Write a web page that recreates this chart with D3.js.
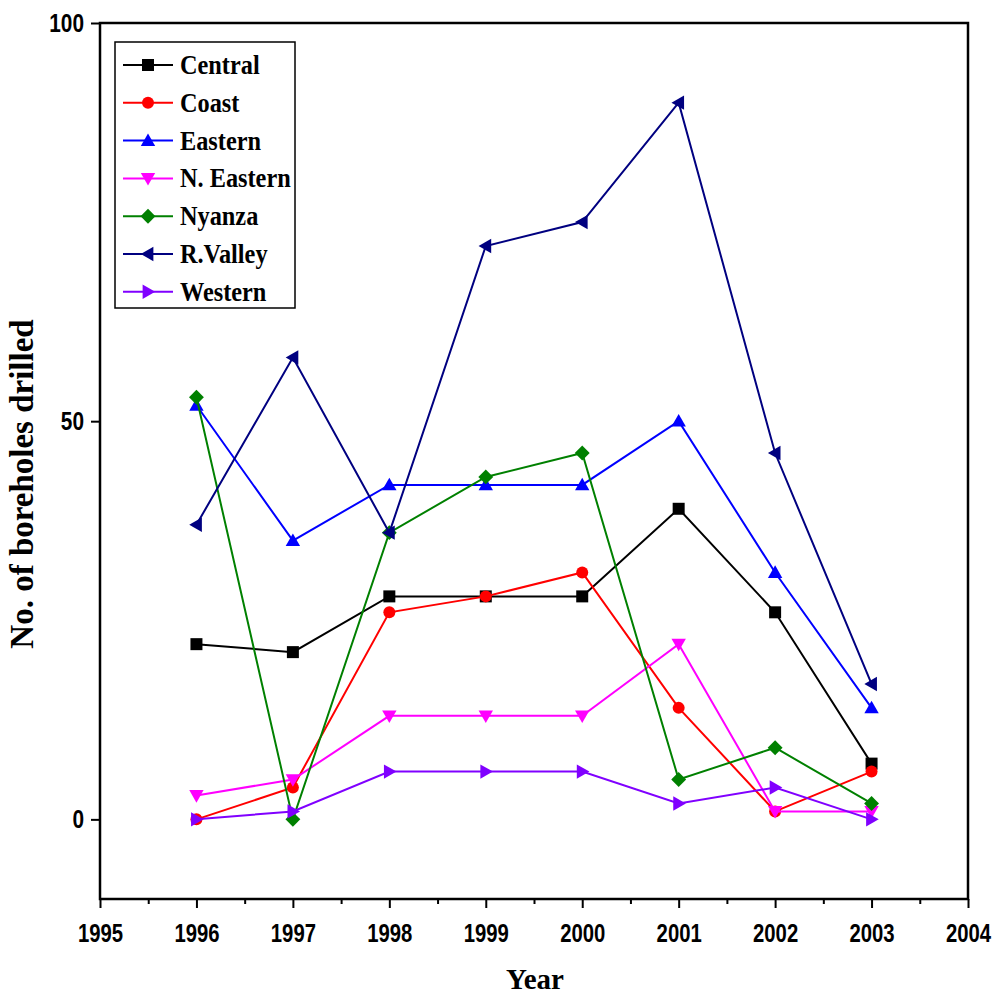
<!DOCTYPE html>
<html>
<head>
<meta charset="utf-8">
<script src="https://cdn.jsdelivr.net/npm/d3@7/dist/d3.min.js"></script>
<style>
  html, body { margin: 0; padding: 0; background: #fff; }
  svg { display: block; }
  .tick-label { font-family: 'Liberation Sans Narrow', 'Arial Narrow', 'Liberation Sans', Arial, sans-serif; font-weight: bold; font-size: 26px; }
  .serif { font-family: 'Liberation Serif', 'Times New Roman', serif; font-weight: bold; }
</style>
</head>
<body>
<script>
const years = [1996, 1997, 1998, 1999, 2000, 2001, 2002, 2003];
const xTickValues = [1995, 1996, 1997, 1998, 1999, 2000, 2001, 2002, 2003, 2004];
const yTickValues = [0, 50, 100];

const central   = [22, 21, 28, 28, 28, 39, 26, 7];
const coast     = [0, 4, 26, 28, 31, 14, 1, 6];
const eastern   = [52, 35, 42, 42, 42, 50, 31, 14];
const nEastern  = [3, 5, 13, 13, 13, 22, 1, 1];
const nyanza    = [53, 0, 36, 43, 46, 5, 9, 2];
const rValley   = [37, 58, 36, 72, 75, 90, 46, 17];
const western   = [0, 1, 6, 6, 6, 2, 4, 0];

const seriesNames = ["Central", "Coast", "Eastern", "N. Eastern", "Nyanza", "R.Valley", "Western"];
const seriesValues = [central, coast, eastern, nEastern, nyanza, rValley, western];
const seriesColors = ["#000000", "#ff0000", "#0000ff", "#ff00ff", "#008000", "#000080", "#8000ff"];
const seriesShapes = ["square", "circle", "triUp", "triDown", "diamond", "triLeft", "triRight"];

(function () {
const W = 995, H = 996;
const pL = 100, pR = 968, pT = 23, pB = 899;

const svg = d3.select("body").append("svg").attr("width", W).attr("height", H);

const x = d3.scaleLinear().domain([1995, 2004]).range([pL, pR]);
const y = d3.scaleLinear().domain([-10, 100]).range([pB, pT]);

function condense(sel, f) {
  sel.each(function () {
    const w = this.getComputedTextLength();
    d3.select(this).attr("textLength", w * f).attr("lengthAdjust", "spacingAndGlyphs");
  });
}

function markerPath(shape, s) {
  const p = d3.path();
  if (shape === "square") { p.rect(-s/2, -s/2, s, s); }
  else if (shape === "circle") { p.arc(0, 0, s/2, 0, 2*Math.PI); }
  else if (shape === "triUp") { p.moveTo(0, -s*0.6); p.lineTo(s*0.6, s*0.45); p.lineTo(-s*0.6, s*0.45); p.closePath(); }
  else if (shape === "triDown") { p.moveTo(0, s*0.6); p.lineTo(s*0.6, -s*0.45); p.lineTo(-s*0.6, -s*0.45); p.closePath(); }
  else if (shape === "diamond") { p.moveTo(0, -s*0.62); p.lineTo(s*0.62, 0); p.lineTo(0, s*0.62); p.lineTo(-s*0.62, 0); p.closePath(); }
  else if (shape === "triLeft") { p.moveTo(-s*0.6, 0); p.lineTo(s*0.45, -s*0.6); p.lineTo(s*0.45, s*0.6); p.closePath(); }
  else if (shape === "triRight") { p.moveTo(s*0.6, 0); p.lineTo(-s*0.45, -s*0.6); p.lineTo(-s*0.45, s*0.6); p.closePath(); }
  return p.toString();
}
const MS = 12;

const xAxis = d3.axisBottom(x).tickValues(xTickValues).tickFormat(d3.format("d")).tickSize(9).tickPadding(16);
const xg = svg.append("g").attr("transform", `translate(0,${pB})`).call(xAxis);
xg.select(".domain").remove();
xg.selectAll("line").attr("stroke", "#000").attr("stroke-width", 2);
xg.selectAll("text").attr("class", "tick-label").attr("fill", "#000");
condense(xg.selectAll("text"), 0.78);
const minorX = xTickValues.slice(0, -1).map(d => d + 0.5);
svg.append("g").attr("transform", `translate(0,${pB})`)
  .call(d3.axisBottom(x).tickValues(minorX).tickSize(5).tickFormat(""))
  .call(g => g.select(".domain").remove())
  .selectAll("line").attr("stroke", "#000").attr("stroke-width", 2);

const yAxis = d3.axisLeft(y).tickValues(yTickValues).tickSize(9).tickPadding(7);
const yg = svg.append("g").attr("transform", `translate(${pL},0)`).call(yAxis);
yg.select(".domain").remove();
yg.selectAll("line").attr("stroke", "#000").attr("stroke-width", 2);
yg.selectAll("text").attr("class", "tick-label").attr("fill", "#000");
condense(yg.selectAll("text"), 0.8);

svg.append("rect").attr("x", pL).attr("y", pT).attr("width", pR - pL).attr("height", pB - pT)
  .attr("fill", "none").attr("stroke", "#000").attr("stroke-width", 2.5);

const line = d3.line().x((d, i) => x(years[i])).y(d => y(d));
seriesValues.forEach((vals, k) => {
  const g = svg.append("g");
  g.append("path").attr("d", line(vals)).attr("fill", "none").attr("stroke", seriesColors[k]).attr("stroke-width", 2);
  g.selectAll("path.m").data(vals).enter().append("path").attr("class", "m")
    .attr("transform", (d, i) => `translate(${x(years[i])},${y(d)})`)
    .attr("d", markerPath(seriesShapes[k], MS)).attr("fill", seriesColors[k]);
});

const lg = svg.append("g");
lg.append("rect").attr("x", 115).attr("y", 42).attr("width", 180).attr("height", 266)
  .attr("fill", "#fff").attr("stroke", "#000").attr("stroke-width", 1.5);
seriesNames.forEach((name, k) => {
  const yy = 65 + k * 37.8;
  lg.append("line").attr("x1", 123).attr("x2", 173).attr("y1", yy).attr("y2", yy)
    .attr("stroke", seriesColors[k]).attr("stroke-width", 2);
  lg.append("path").attr("transform", `translate(148,${yy})`).attr("d", markerPath(seriesShapes[k], MS)).attr("fill", seriesColors[k]);
  const t = lg.append("text").attr("class", "serif").attr("x", 180).attr("y", yy + 9).attr("font-size", 27).text(name);
  condense(t, 0.9);
});

svg.append("text").attr("class", "serif").attr("font-size", 33)
  .attr("text-anchor", "middle").attr("transform", `translate(33,484) rotate(-90)`).text("No. of boreholes drilled");
svg.append("text").attr("class", "serif").attr("font-size", 29)
  .attr("text-anchor", "middle").attr("x", 535).attr("y", 989).text("Year");
})();
</script>
</body>
</html>
